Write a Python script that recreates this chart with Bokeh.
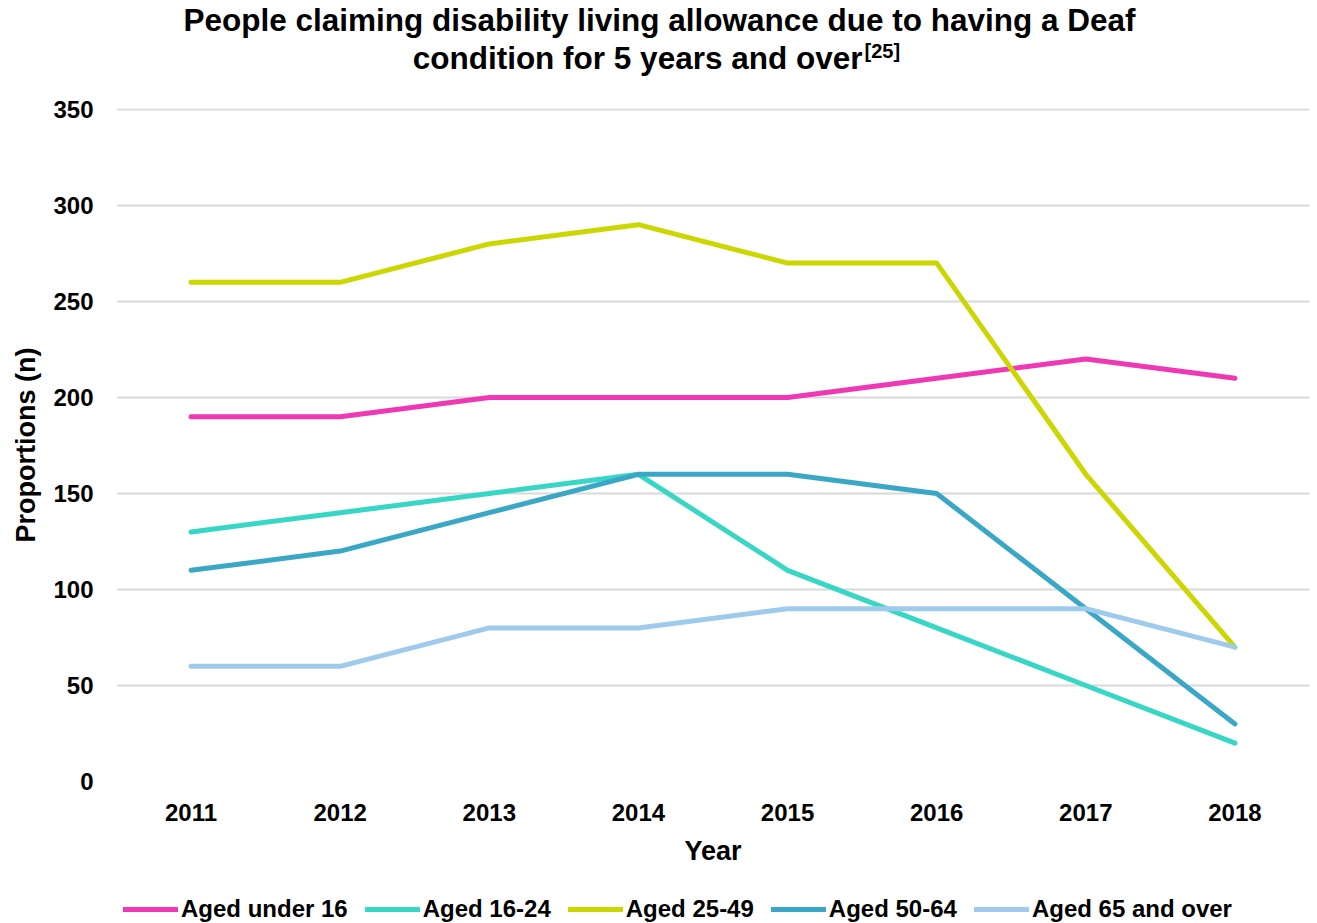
from bokeh.plotting import figure
from bokeh.layouts import column
from bokeh.models import Range1d, FixedTicker, Legend, LegendItem, ColumnDataSource
from bokeh.core.properties import value
from bokeh.embed import file_html
from bokeh.resources import INLINE

years = ["2011", "2012", "2013", "2014", "2015", "2016", "2017", "2018"]
under16 = [190, 190, 200, 200, 200, 210, 220, 210]
aged16_24 = [130, 140, 150, 160, 110, 80, 50, 20]
aged25_49 = [260, 260, 280, 290, 270, 270, 160, 70]
aged50_64 = [110, 120, 140, 160, 160, 150, 90, 30]
aged65_over = [60, 60, 80, 80, 90, 90, 90, 70]
series_names = ["Aged under 16", "Aged 16-24", "Aged 25-49", "Aged 50-64", "Aged 65 and over"]
colors = ["#EF38B4", "#38D6C4", "#CCD600", "#3AA7C6", "#9ECBEB"]
y_ticks = [0, 50, 100, 150, 200, 250, 300, 350]
title_line1 = "People claiming disability living allowance due to having a Deaf"
title_line2 = "condition for 5 years and over"
title_ref = "[25]"

FONT = "Liberation Sans"

# ---- title strip (x in page pixels; frame is aligned with the chart frame 116..1309) ----
t = figure(width=1317, height=80, x_range=Range1d(116, 1309), y_range=Range1d(80, 0),
           output_backend="svg", toolbar_location=None,
           min_border_left=116, min_border_right=8, min_border_top=0, min_border_bottom=0)
t.axis.visible = False
t.grid.visible = False
t.outline_line_color = None
t.text(x=[659], y=[19], text=[title_line1], text_align="center", text_baseline="alphabetic",
       text_font=value(FONT), text_font_style="bold", text_font_size="31.5px", text_color="black")
t.text(x=[862], y=[57], text=[title_line2], text_align="right", text_baseline="alphabetic",
       text_font=value(FONT), text_font_style="bold", text_font_size="31.5px", text_color="black")
t.text(x=[864], y=[50], text=[title_ref], text_align="left", text_baseline="alphabetic",
       text_font=value(FONT), text_font_style="bold", text_font_size="20px", text_color="black")

# ---- main chart ----
p = figure(width=1317, height=800, x_range=years, y_range=Range1d(0, 350.52),
           output_backend="svg", toolbar_location=None,
           min_border_left=116, min_border_right=8, min_border_top=28, min_border_bottom=99)
p.outline_line_color = None
p.background_fill_color = "white"
p.border_fill_color = "white"

p.xgrid.grid_line_color = None
p.ygrid.grid_line_color = "#D9D9D9"
p.ygrid.grid_line_width = 2
p.yaxis.ticker = FixedTicker(ticks=y_ticks)

for ax in (p.xaxis, p.yaxis):
    ax.axis_line_color = None
    ax.major_tick_line_color = None
    ax.minor_tick_line_color = None
    ax.major_tick_out = 0
    ax.major_tick_in = 0
    ax.minor_tick_out = 0
    ax.major_label_text_font = FONT
    ax.major_label_text_font_style = "bold"
    ax.major_label_text_font_size = "24px"
    ax.major_label_text_color = "black"
    ax.axis_label_text_font = FONT
    ax.axis_label_text_font_style = "bold"
    ax.axis_label_text_font_size = "27px"
    ax.axis_label_text_color = "black"

p.xaxis.axis_label = "Year"
p.yaxis.axis_label = "Proportions (n)"
p.xaxis.major_label_standoff = 22
p.xaxis.axis_label_standoff = 12
p.yaxis.major_label_standoff = 23
p.yaxis.axis_label_standoff = 9

data = [under16, aged16_24, aged25_49, aged50_64, aged65_over]
for name, vals, col in zip(series_names, data, colors):
    src = ColumnDataSource(dict(x=years, y=vals))
    p.line("x", "y", source=src, line_color=col, line_width=5, line_cap="round", line_join="round")

# ---- legend strip (series drawn out of view; only their legend entries show) ----
lg = figure(width=1317, height=43, x_range=years, y_range=Range1d(1000, 1001),
            output_backend="svg", toolbar_location=None,
            min_border_left=116, min_border_right=8, min_border_top=0, min_border_bottom=0)
lg.axis.visible = False
lg.grid.visible = False
lg.outline_line_color = None
items = []
for name, vals, col in zip(series_names, data, colors):
    src = ColumnDataSource(dict(x=years, y=vals))
    r = lg.line("x", "y", source=src, line_color=col, line_width=5, line_cap="round")
    items.append(LegendItem(label=name, renderers=[r]))
legend = Legend(items=items, orientation="horizontal", location=(7, 0),
                label_text_font=FONT, label_text_font_style="bold", label_text_font_size="24px",
                label_text_color="black", glyph_width=55, glyph_height=24, label_standoff=3,
                spacing=17, padding=0, margin=0, border_line_color=None,
                background_fill_alpha=0)
lg.add_layout(legend, "center")

layout = column(t, p, lg, spacing=0)
open("out.html", "w").write(file_html(layout, INLINE))
